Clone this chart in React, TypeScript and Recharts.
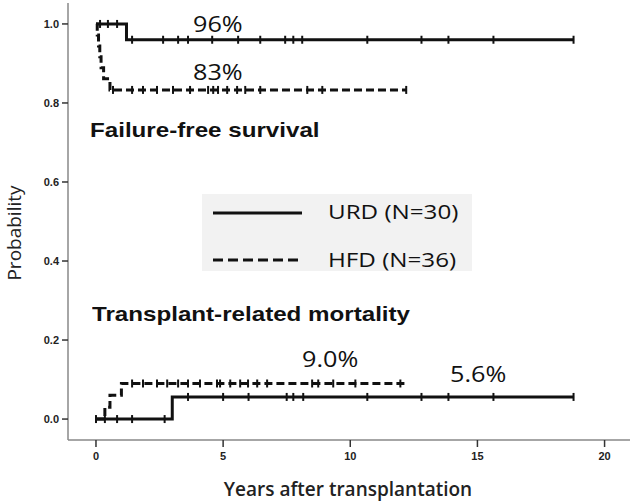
import React from 'react';
import { ComposedChart, Line, Scatter, XAxis, YAxis } from 'recharts';

// Kaplan-Meier style step data (years, probability)
const urdFfsT = [0, 1.2, 18.8];
const urdFfsP = [1.0, 0.96, 0.96];
const hfdFfsT = [0, 0.05, 0.1, 0.15, 0.2, 0.3, 0.55, 12.2];
const hfdFfsP = [1.0, 0.972, 0.944, 0.917, 0.889, 0.861, 0.833, 0.833];
const urdTrmT = [0, 3.0, 18.8];
const urdTrmP = [0, 0.056, 0.056];
const hfdTrmT = [0, 0.35, 0.55, 1.0, 12.2];
const hfdTrmP = [0, 0.03, 0.06, 0.09, 0.09];

// censor marks
const urdFfsCensTop = [0.16, 0.47, 0.83];
const urdFfsCens = [1.42, 2.64, 3.23, 3.62, 4.57, 5.59, 6.46, 7.44, 7.76, 8.11, 10.67, 12.8, 13.86, 15.63, 18.78];
const hfdFfsCens = [0.67, 1.42, 1.85, 2.4, 3.03, 3.7, 4.41, 4.61, 4.8, 5.16, 5.55, 5.87, 6.46, 8.31, 8.9, 12.2];
const urdTrmCensZero = [0, 0.35, 0.83, 1.42, 2.7];
const urdTrmCens = [3.62, 5.0, 6.0, 7.5, 7.76, 8.15, 10.67, 12.8, 13.86, 15.63, 18.78];
const hfdTrmCens = [1.42, 1.85, 2.4, 2.8, 3.23, 3.62, 4.09, 4.76, 4.88, 5.28, 5.67, 5.98, 6.34, 6.73, 8.5, 8.74, 9.33, 10.2, 11.97];

const xTicks = [0, 5, 10, 15, 20];
const yTicks = [0, 0.2, 0.4, 0.6, 0.8, 1.0];

const toRows = (t: number[], p: number[]) => t.map((v, i) => ({ t: v, p: p[i] }));
const censRows = (t: number[], p: number) => t.map((v) => ({ t: v, p }));

const CensorMark = (props: any) => {
  const { cx, cy } = props;
  if (cx == null || cy == null) return null;
  return <line x1={cx} x2={cx} y1={cy - 4} y2={cy + 4} stroke="#111" strokeWidth={2} />;
};

const txt: React.CSSProperties = { position: 'absolute', whiteSpace: 'nowrap', color: '#111', lineHeight: 'normal' };
const pct: React.CSSProperties = { ...txt, fontSize: 21, transform: 'scaleX(1.2)', transformOrigin: 'left center' };
const title: React.CSSProperties = { ...txt, fontSize: 21, fontWeight: 700, fontFamily: '"Liberation Sans", Arial, sans-serif', transform: 'scaleX(1.15)', transformOrigin: 'left center' };
const leg: React.CSSProperties = { ...txt, fontSize: 20, transform: 'scaleX(1.21)', transformOrigin: 'left center' };

export default function App() {
  return (
    <div style={{ position: 'absolute', left: 0, top: 0, width: 633, height: 501, background: '#fff', fontFamily: '"Open Sans", sans-serif', overflow: 'hidden' }}>
      <ComposedChart width={633} height={501} margin={{ top: 3, right: 3, left: 0, bottom: 0 }}>
        <XAxis
          dataKey="t"
          type="number"
          domain={[-1.1, 21.0]}
          ticks={xTicks}
          allowDataOverflow
          height={61}
          axisLine={{ stroke: '#888', strokeWidth: 1.5 }}
          tickLine={{ stroke: '#333', strokeWidth: 1.5 }}
          tickSize={7}
          tickMargin={5}
          tick={{ fill: '#222', fontSize: 11, fontWeight: 700, fontFamily: '"Liberation Sans", Arial, sans-serif' }}
        />
        <YAxis
          dataKey="p"
          type="number"
          domain={[-0.053, 1.053]}
          ticks={yTicks}
          allowDataOverflow
          width={68}
          tickFormatter={(v: number) => v.toFixed(1)}
          axisLine={{ stroke: '#888', strokeWidth: 1.5 }}
          tickLine={{ stroke: '#333', strokeWidth: 1.5 }}
          tickSize={6}
          tickMargin={3}
          tick={{ fill: '#222', fontSize: 11, fontWeight: 700, fontFamily: '"Liberation Sans", Arial, sans-serif' }}
        />
        <Line data={toRows(urdFfsT, urdFfsP)} dataKey="p" type="stepAfter" stroke="#111" strokeWidth={3} dot={false} isAnimationActive={false} />
        <Line data={toRows(hfdFfsT, hfdFfsP)} dataKey="p" type="stepAfter" stroke="#111" strokeWidth={3} strokeDasharray="8 4" dot={false} isAnimationActive={false} />
        <Line data={toRows(urdTrmT, urdTrmP)} dataKey="p" type="stepAfter" stroke="#111" strokeWidth={3} dot={false} isAnimationActive={false} />
        <Line data={toRows(hfdTrmT, hfdTrmP)} dataKey="p" type="stepAfter" stroke="#111" strokeWidth={3} strokeDasharray="8 4" dot={false} isAnimationActive={false} />
        <Scatter data={censRows(urdFfsCensTop, 1.0)} dataKey="p" shape={CensorMark} isAnimationActive={false} />
        <Scatter data={censRows(urdFfsCens, 0.96)} dataKey="p" shape={CensorMark} isAnimationActive={false} />
        <Scatter data={censRows(hfdFfsCens, 0.833)} dataKey="p" shape={CensorMark} isAnimationActive={false} />
        <Scatter data={censRows(urdTrmCensZero, 0)} dataKey="p" shape={CensorMark} isAnimationActive={false} />
        <Scatter data={censRows(urdTrmCens, 0.056)} dataKey="p" shape={CensorMark} isAnimationActive={false} />
        <Scatter data={censRows(hfdTrmCens, 0.09)} dataKey="p" shape={CensorMark} isAnimationActive={false} />
      </ComposedChart>

      <div style={{ ...pct, left: 193, top: 10 }}>96%</div>
      <div style={{ ...pct, left: 193, top: 58 }}>83%</div>
      <div style={{ ...pct, left: 302, top: 345 }}>9.0%</div>
      <div style={{ ...pct, left: 450, top: 360 }}>5.6%</div>
      <div style={{ ...title, left: 90, top: 118 }}>Failure-free survival</div>
      <div style={{ ...title, left: 92, top: 302 }}>Transplant-related mortality</div>

      <div style={{ position: 'absolute', left: 202, top: 194, width: 270, height: 77, background: '#f2f2f2' }}>
        <svg width={110} height={77} style={{ position: 'absolute', left: 0, top: 0 }}>
          <line x1={11} x2={100} y1={19} y2={19} stroke="#111" strokeWidth={3} />
          <line x1={11} x2={100} y1={66} y2={66} stroke="#111" strokeWidth={3} strokeDasharray="10 5" />
        </svg>
        <div style={{ ...leg, left: 126, top: 4 }}>URD (N=30)</div>
        <div style={{ ...leg, left: 126, top: 52 }}>HFD (N=36)</div>
      </div>

      <div style={{ ...txt, left: 348, top: 476, transform: 'translateX(-50%)', fontSize: 19, fontWeight: 600, color: '#222' }}>Years after transplantation</div>
      <div style={{ ...txt, left: 14, top: 220, fontSize: 19, color: '#222', transform: 'translate(-50%, 0) rotate(-90deg)', transformOrigin: 'center center' }}>Probability</div>
    </div>
  );
}
